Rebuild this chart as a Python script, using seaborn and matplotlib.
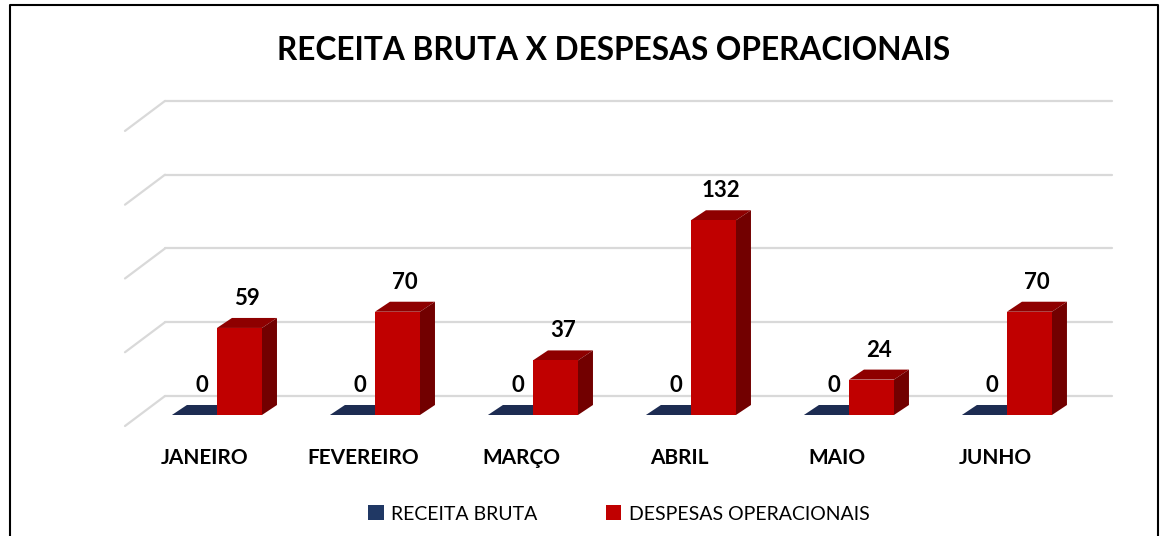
import matplotlib
matplotlib.use("Agg")
import matplotlib.pyplot as plt
import matplotlib.transforms as mtransforms
from matplotlib.patches import Polygon, Patch
from matplotlib.lines import Line2D
import pandas as pd
import seaborn as sns

# --- dados ---
meses = ["JANEIRO", "FEVEREIRO", "MARÇO", "ABRIL", "MAIO", "JUNHO"]
series = ["RECEITA BRUTA", "DESPESAS OPERACIONAIS"]
receita_bruta = [0, 0, 0, 0, 0, 0]
despesas_operacionais = [59, 70, 37, 132, 24, 70]
grade = [0, 50, 100, 150, 200]

cores = ["#203864", "#C00000"]
cores_topo = ["#1d2c52", "#8e0000"]
cores_lado = ["#16223f", "#720000"]

df = pd.DataFrame({
    "Mes": meses * 2,
    "Serie": [series[0]] * len(meses) + [series[1]] * len(meses),
    "Valor": receita_bruta + despesas_operacionais,
})

sns.set_theme(style="white")
plt.rcParams["font.family"] = ["Lato", "DejaVu Sans"]
plt.rcParams["text.color"] = "black"
plt.rcParams["xtick.color"] = "black"
plt.rcParams["xtick.labelcolor"] = "black"

W, H = 1168, 536
fig = plt.figure(figsize=(W / 100, H / 100), dpi=100)
ax = fig.add_axes([125 / W, 1 - 430 / H, (1112 - 125) / W, (430 - 95) / H])

sns.barplot(data=df, x="Mes", y="Valor", hue="Serie", hue_order=series,
            palette=cores, width=0.57, saturation=1, linewidth=0,
            legend=False, ax=ax, zorder=3)

ax.set_xlim(-0.582, 5.665)
ax.set_ylim(-10.17, 216.9)

# pixels -> unidades de dados
sx = ax.transData.transform((1, 0))[0] - ax.transData.transform((0, 0))[0]
sy = ax.transData.transform((0, 1))[1] - ax.transData.transform((0, 0))[1]
ddx, ddy = 15 / sx, 10 / sy

# grade "3D" na parede do fundo
x0, x1 = ax.get_xlim()
for v in grade:
    yb = v + 19 / sy
    ax.plot([x0 + 40 / sx, x1], [yb, yb], color="#d9d9d9", lw=1.6, zorder=1, clip_on=False)
    ax.plot([x0, x0 + 40 / sx], [v - 11 / sy, yb], color="#d9d9d9", lw=1.6, zorder=1, clip_on=False)

# faces de topo e lateral + rótulos
for j, cont in enumerate(ax.containers):
    for bar in cont:
        bx, bw, bh = bar.get_x(), bar.get_width(), bar.get_height()
        z = 2 + j
        bar.set_zorder(z + 0.5)
        topo = Polygon([(bx, bh), (bx + bw, bh), (bx + bw + ddx, bh + ddy), (bx + ddx, bh + ddy)],
                       closed=True, facecolor=cores_topo[j], edgecolor="none", zorder=z)
        lado = Polygon([(bx + bw, 0), (bx + bw + ddx, ddy), (bx + bw + ddx, bh + ddy), (bx + bw, bh)],
                       closed=True, facecolor=cores_lado[j], edgecolor="none", zorder=z)
        ax.add_patch(topo)
        ax.add_patch(lado)
        ax.annotate(f"{bh:.0f}", (bx + bw / 2 + ddx / 2, bh + ddy), xytext=(0, 9),
                    textcoords="offset pixels", ha="center", va="bottom",
                    fontsize=16, fontweight="bold", color="black", zorder=10)

for s in ax.spines.values():
    s.set_visible(False)
ax.set_yticks([])
ax.set_xlabel("")
ax.set_ylabel("")
ax.tick_params(axis="x", length=0, pad=13, labelcolor="black")
ax.set_xticks(range(len(meses)))
ax.set_xticklabels(meses, fontsize=15, fontweight="bold", color="black")
desloc = mtransforms.ScaledTranslation(-0.12, 0, fig.dpi_scale_trans)
for lbl in ax.get_xticklabels():
    lbl.set_transform(lbl.get_transform() + desloc)

fig.text(613.5 / W, 1 - 51 / H, "RECEITA BRUTA X DESPESAS OPERACIONAIS",
         ha="center", va="center", fontsize=22.8, fontweight="bold", color="black")

handles = [Patch(facecolor=c, edgecolor="none") for c in cores]
leg = fig.legend(handles, series, loc="center", bbox_to_anchor=(619 / W, 1 - 514 / H),
                 ncol=2, frameon=False, fontsize=14, handlelength=0.8, handleheight=0.8,
                 handletextpad=0.4, columnspacing=3.5)
for t in leg.get_texts():
    t.set_color("black")

# moldura
fig.add_artist(Line2D([10 / W, 10 / W, 1158 / W, 1158 / W], [0, 1 - 5 / H, 1 - 5 / H, 0],
                      color="black", lw=1.5))

fig.savefig("out.png", dpi=100)
